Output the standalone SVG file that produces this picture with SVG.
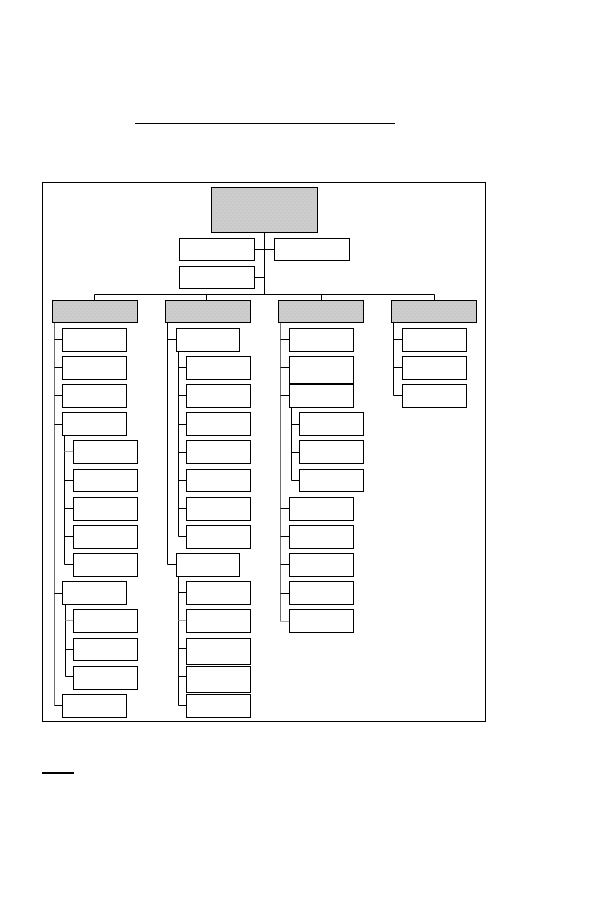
<svg xmlns="http://www.w3.org/2000/svg" width="594" height="918" viewBox="0 0 594 918">
<defs>
<pattern id="dots" width="4" height="4" patternUnits="userSpaceOnUse">
<rect width="4" height="4" fill="#cdcdcd"/>
<rect x="1" y="1" width="1" height="1" fill="#bdbdbd"/>
<rect x="3" y="3" width="1" height="1" fill="#c2c2c2"/>
</pattern>
<style>
.b{fill:#fff;stroke:#000;stroke-width:1}
.h{fill:url(#dots);stroke:#000;stroke-width:1}
.c{fill:none;stroke:#000;stroke-width:1}
.g{fill:none;stroke:#6e6e6e;stroke-width:1}
.lg{fill:none;stroke:#aaa;stroke-width:1}
</style>
</defs>
<rect width="594" height="918" fill="#fff"/>
<line x1="135" y1="123.5" x2="395" y2="123.5" stroke="#000" stroke-width="1.2"/>
<rect x="42.5" y="182.5" width="443" height="539" fill="none" stroke="#000" stroke-width="1"/>
<line x1="42" y1="773" x2="74" y2="773" stroke="#000" stroke-width="2"/>

<g id="connectors">
<path class="c" d="M264.5 232.5V294.5M254.5 249.5H274.5M254.5 277.5H264.5M94.5 294.5H434.5M94.5 294.5V300.5M206.5 294.5V300.5M321.5 294.5V300.5M434.5 294.5V300.5"/>
<!-- col1 -->
<path class="g" d="M54.5 322.5V705.5"/>
<path class="c" d="M54.5 339.5H62.5M54.5 395.5H62.5M54.5 424.5H62.5M54.5 593.5H62.5M54.5 705.5H62.5"/>
<path class="c" d="M54.5 367.5H62.5"/>
<path class="c" d="M64.5 435.5V564.5M64.5 480.5H73.5M64.5 508.5H73.5M64.5 536.5H73.5M64.5 564.5H73.5"/>
<path class="lg" d="M64.5 451.5H73.5" stroke-width="1.5"/>
<path class="c" d="M65.5 603.5V676.5M65.5 649.5H73.5M65.5 676.5H73.5"/>
<path class="lg" d="M65.5 620.5H73.5" stroke-width="1.5"/>
<!-- col2 -->
<path class="c" d="M167.5 322.5V564.5M167.5 339.5H176.5M167.5 564.5H176.5"/>
<path class="c" d="M178.5 350.5V536.5M178.5 367.5H186.5M178.5 395.5H186.5M178.5 424.5H186.5M178.5 452.5H186.5M178.5 480.5H186.5M178.5 508.5H186.5M178.5 536.5H186.5"/>
<path class="c" d="M178.5 575.5V705.5M178.5 592.5H186.5M178.5 648.5H186.5M178.5 676.5H186.5M178.5 705.5H186.5"/>
<path class="lg" d="M178.5 620.5H186.5" stroke-width="1.5"/>
<!-- col3 -->
<path class="g" d="M280.5 322.5V621.5"/>
<path class="c" d="M280.5 339.5H289.5M280.5 367.5H289.5M280.5 395.5H289.5M280.5 508.5H289.5M280.5 536.5H289.5M280.5 564.5H289.5M280.5 593.5H289.5"/>
<path class="lg" d="M280.5 621.5H289.5" stroke-width="1.5"/>
<path class="c" d="M291.5 406.5V480.5M291.5 424.5H299.5M291.5 452.5H299.5M291.5 480.5H299.5"/>
<!-- col4 -->
<path class="c" d="M393.5 322.5V395.5M393.5 339.5H402.5M393.5 367.5H402.5M393.5 395.5H402.5"/>
</g>

<g id="root"><rect class="h" x="211.5" y="187.5" width="106" height="45" stroke-width="1.3"/></g>
<g id="n-left1"><rect class="b" x="179.5" y="238.5" width="75" height="22"/></g>
<g id="n-right1"><rect class="b" x="274.5" y="238.5" width="75" height="22"/></g>
<g id="n-left2"><rect class="b" x="179.5" y="266.5" width="75" height="22"/></g>

<g id="h1"><rect class="h" x="52.5" y="300.5" width="85" height="22"/></g>
<g id="h2"><rect class="h" x="165.5" y="300.5" width="85" height="22"/></g>
<g id="h3"><rect class="h" x="278.5" y="300.5" width="85" height="22"/></g>
<g id="h4"><rect class="h" x="391.5" y="300.5" width="85" height="22"/></g>

<!-- column 1 -->
<g id="c1-1"><rect class="b" x="62.5" y="328.5" width="64" height="23"/></g>
<g id="c1-2"><rect class="b" x="62.5" y="356.5" width="64" height="23"/></g>
<g id="c1-3"><rect class="b" x="62.5" y="384.5" width="64" height="23"/></g>
<g id="c1-4"><rect class="b" x="62.5" y="412.5" width="64" height="23"/></g>
<g id="c1-4-1"><rect class="b" x="73.5" y="440.5" width="64" height="23"/></g>
<g id="c1-4-2"><rect class="b" x="73.5" y="469.5" width="64" height="22"/></g>
<g id="c1-4-3"><rect class="b" x="73.5" y="497.5" width="64" height="23"/></g>
<g id="c1-4-4"><rect class="b" x="73.5" y="525.5" width="64" height="23"/></g>
<g id="c1-4-5"><rect class="b" x="73.5" y="553.5" width="64" height="23"/></g>
<g id="c1-5"><rect class="b" x="62.5" y="581.5" width="64" height="23"/></g>
<g id="c1-5-1"><rect class="b" x="73.5" y="609.5" width="64" height="23"/></g>
<g id="c1-5-2"><rect class="b" x="73.5" y="638.5" width="64" height="22"/></g>
<g id="c1-5-3"><rect class="b" x="73.5" y="666.5" width="64" height="23"/></g>
<g id="c1-6"><rect class="b" x="62.5" y="694.5" width="64" height="23"/></g>

<!-- column 2 -->
<g id="c2-1"><rect class="b" x="176.5" y="328.5" width="63" height="23"/></g>
<g id="c2-1-1"><rect class="b" x="186.5" y="356.5" width="64" height="23"/></g>
<g id="c2-1-2"><rect class="b" x="186.5" y="384.5" width="64" height="23"/></g>
<g id="c2-1-3"><rect class="b" x="186.5" y="412.5" width="64" height="23"/></g>
<g id="c2-1-4"><rect class="b" x="186.5" y="440.5" width="64" height="23"/></g>
<g id="c2-1-5"><rect class="b" x="186.5" y="469.5" width="64" height="22"/></g>
<g id="c2-1-6"><rect class="b" x="186.5" y="497.5" width="64" height="23"/></g>
<g id="c2-1-7"><rect class="b" x="186.5" y="525.5" width="64" height="23"/></g>
<g id="c2-2"><rect class="b" x="176.5" y="553.5" width="63" height="23"/></g>
<g id="c2-2-1"><rect class="b" x="186.5" y="581.5" width="64" height="23"/></g>
<g id="c2-2-2"><rect class="b" x="186.5" y="609.5" width="64" height="23"/></g>
<g id="c2-2-3"><rect class="b" x="186.5" y="638.5" width="64" height="26"/></g>
<g id="c2-2-4"><rect class="b" x="186.5" y="666.5" width="64" height="26"/></g>
<g id="c2-2-5"><rect class="b" x="186.5" y="694.5" width="64" height="23"/></g>

<!-- column 3 -->
<g id="c3-1"><rect class="b" x="289.5" y="328.5" width="64" height="23"/></g>
<g id="c3-2"><rect class="b" x="289.5" y="356.5" width="64" height="27"/></g>
<g id="c3-3"><rect class="b" x="289.5" y="384.5" width="64" height="23"/></g>
<g id="c3-3-1"><rect class="b" x="299.5" y="412.5" width="64" height="23"/></g>
<g id="c3-3-2"><rect class="b" x="299.5" y="440.5" width="64" height="23"/></g>
<g id="c3-3-3"><rect class="b" x="299.5" y="469.5" width="64" height="22"/></g>
<g id="c3-4"><rect class="b" x="289.5" y="497.5" width="64" height="23"/></g>
<g id="c3-5"><rect class="b" x="289.5" y="525.5" width="64" height="23"/></g>
<g id="c3-6"><rect class="b" x="289.5" y="553.5" width="64" height="23"/></g>
<g id="c3-7"><rect class="b" x="289.5" y="581.5" width="64" height="23"/></g>
<g id="c3-8"><rect class="b" x="289.5" y="609.5" width="64" height="23"/></g>

<!-- column 4 -->
<g id="c4-1"><rect class="b" x="402.5" y="328.5" width="64" height="23"/></g>
<g id="c4-2"><rect class="b" x="402.5" y="356.5" width="64" height="23"/></g>
<g id="c4-3"><rect class="b" x="402.5" y="384.5" width="64" height="23"/></g>
</svg>
